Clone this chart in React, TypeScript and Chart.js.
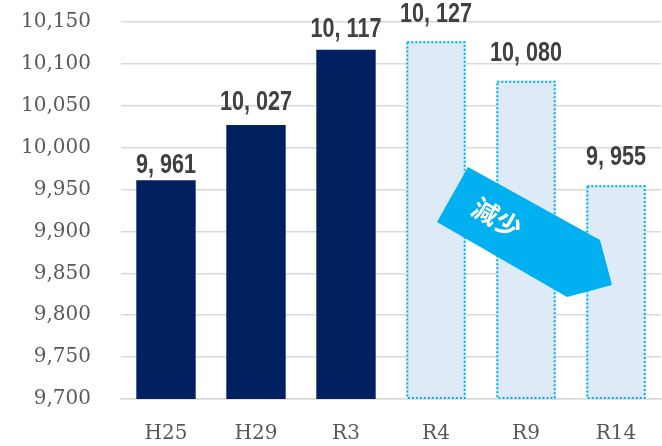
import React, { useEffect, useRef } from "react";
import { Chart, registerables } from "chart.js";

Chart.register(...registerables);

const categories = ["H25", "H29", "R3", "R4", "R9", "R14"];
const actualValues = [9961, 10027, 10117, null, null, null];
const projectedValues = [null, null, null, 10127, 10080, 9955];
const yMin = 9700;
const yMax = 10150;
const yStep = 50;
const arrowText = "減少";

const labelGap = [7, 15, 13, 19, 20, 20];

function fmtLabel(v: number) {
  const th = Math.floor(v / 1000);
  const rest = String(v % 1000).padStart(3, "0");
  return `${th}, ${rest}`;
}

const overlayPlugin = {
  id: "overlay",
  afterDatasetsDraw(chart: any) {
    const ctx = chart.ctx as CanvasRenderingContext2D;
    const area = chart.chartArea;
    // dotted borders for projected bars
    const metaP = chart.getDatasetMeta(1);
    ctx.save();
    ctx.strokeStyle = "#00B0F0";
    ctx.lineWidth = 2;
    ctx.setLineDash([2, 2]);
    metaP.data.forEach((bar: any, i: number) => {
      if (projectedValues[i] == null) return;
      const w = bar.width;
      const left = bar.x - w / 2 + 1;
      const right = bar.x + w / 2 - 1;
      const top = bar.y + 1;
      const bottom = Math.min(bar.base, area.bottom) - 1;
      ctx.beginPath();
      ctx.rect(left, top, right - left, bottom - top);
      ctx.stroke();
    });
    ctx.restore();

    // arrow annotation
    ctx.save();
    ctx.fillStyle = "#00B0F0";
    ctx.beginPath();
    ctx.moveTo(468, 167);
    ctx.lineTo(600, 240);
    ctx.lineTo(612, 285);
    ctx.lineTo(567, 297);
    ctx.lineTo(437, 222);
    ctx.closePath();
    ctx.fill();
    ctx.translate(497, 218);
    ctx.rotate((30 * Math.PI) / 180);
    ctx.fillStyle = "#ffffff";
    ctx.font = "bold 26px 'Noto Sans CJK JP', sans-serif";
    ctx.textAlign = "center";
    ctx.textBaseline = "middle";
    ctx.fillText(arrowText, 0, 0);
    ctx.restore();

    // data labels
    ctx.save();
    ctx.fillStyle = "#404040";
    ctx.font = "bold 27px 'Liberation Sans', Arial, sans-serif";
    ctx.textAlign = "center";
    ctx.textBaseline = "alphabetic";
    [0, 1].forEach((di) => {
      const vals = di === 0 ? actualValues : projectedValues;
      chart.getDatasetMeta(di).data.forEach((bar: any, i: number) => {
        const v = vals[i];
        if (v == null) return;
        ctx.save();
        ctx.translate(bar.x, bar.y - labelGap[i]);
        ctx.scale(0.8, 1);
        ctx.fillText(fmtLabel(v), 0, 0);
        ctx.restore();
      });
    });
    ctx.restore();
  },
};

export default function App() {
  const ref = useRef<HTMLCanvasElement>(null);
  useEffect(() => {
    document.body.style.margin = "0";
    const chart = new Chart(ref.current!, {
      type: "bar",
      data: {
        labels: categories,
        datasets: [
          {
            data: actualValues as any,
            backgroundColor: "#002060",
            borderWidth: 0,
            clip: 0,
          } as any,
          {
            data: projectedValues as any,
            backgroundColor: "#DEEAF6",
            borderWidth: 0,
            clip: 0,
          } as any,
        ],
      },
      options: {
        responsive: false,
        animation: false,
        devicePixelRatio: 1,
        layout: { padding: { top: 22, right: 1, left: 0, bottom: 0 } },
        datasets: {
          bar: {
            skipNull: true,
            categoryPercentage: 1,
            barPercentage: 0.66,
          } as any,
        },
        plugins: {
          legend: { display: false },
          tooltip: { enabled: false },
        },
        scales: {
          x: {
            grid: { display: false, drawTicks: false },
            border: { display: true, color: "#D9D9D9", width: 1.5 },
            ticks: {
              padding: 23,
              color: "#595959",
              font: { family: "'DejaVu Serif', serif", size: 20 },
            },
            afterFit(scale: any) {
              scale.height = 47;
              scale.paddingLeft = 0;
              scale.paddingRight = 0;
            },
          },
          y: {
            min: yMin,
            max: yMax,
            grid: { color: "#D9D9D9", lineWidth: 1.5, drawTicks: false },
            border: { display: false },
            ticks: {
              stepSize: yStep,
              padding: 30,
              color: "#595959",
              font: { family: "'DejaVu Serif', serif", size: 20 },
              callback: (v: any) => Number(v).toLocaleString("en-US"),
            },
            afterFit(scale: any) {
              scale.width = 121;
              scale.paddingTop = 0;
              scale.paddingBottom = 0;
            },
          },
        },
      },
      plugins: [overlayPlugin],
    });
    return () => chart.destroy();
  }, []);
  return (
    <div style={{ width: 662, height: 446 }}>
      <canvas ref={ref} width={662} height={446} style={{ display: "block" }} />
    </div>
  );
}
